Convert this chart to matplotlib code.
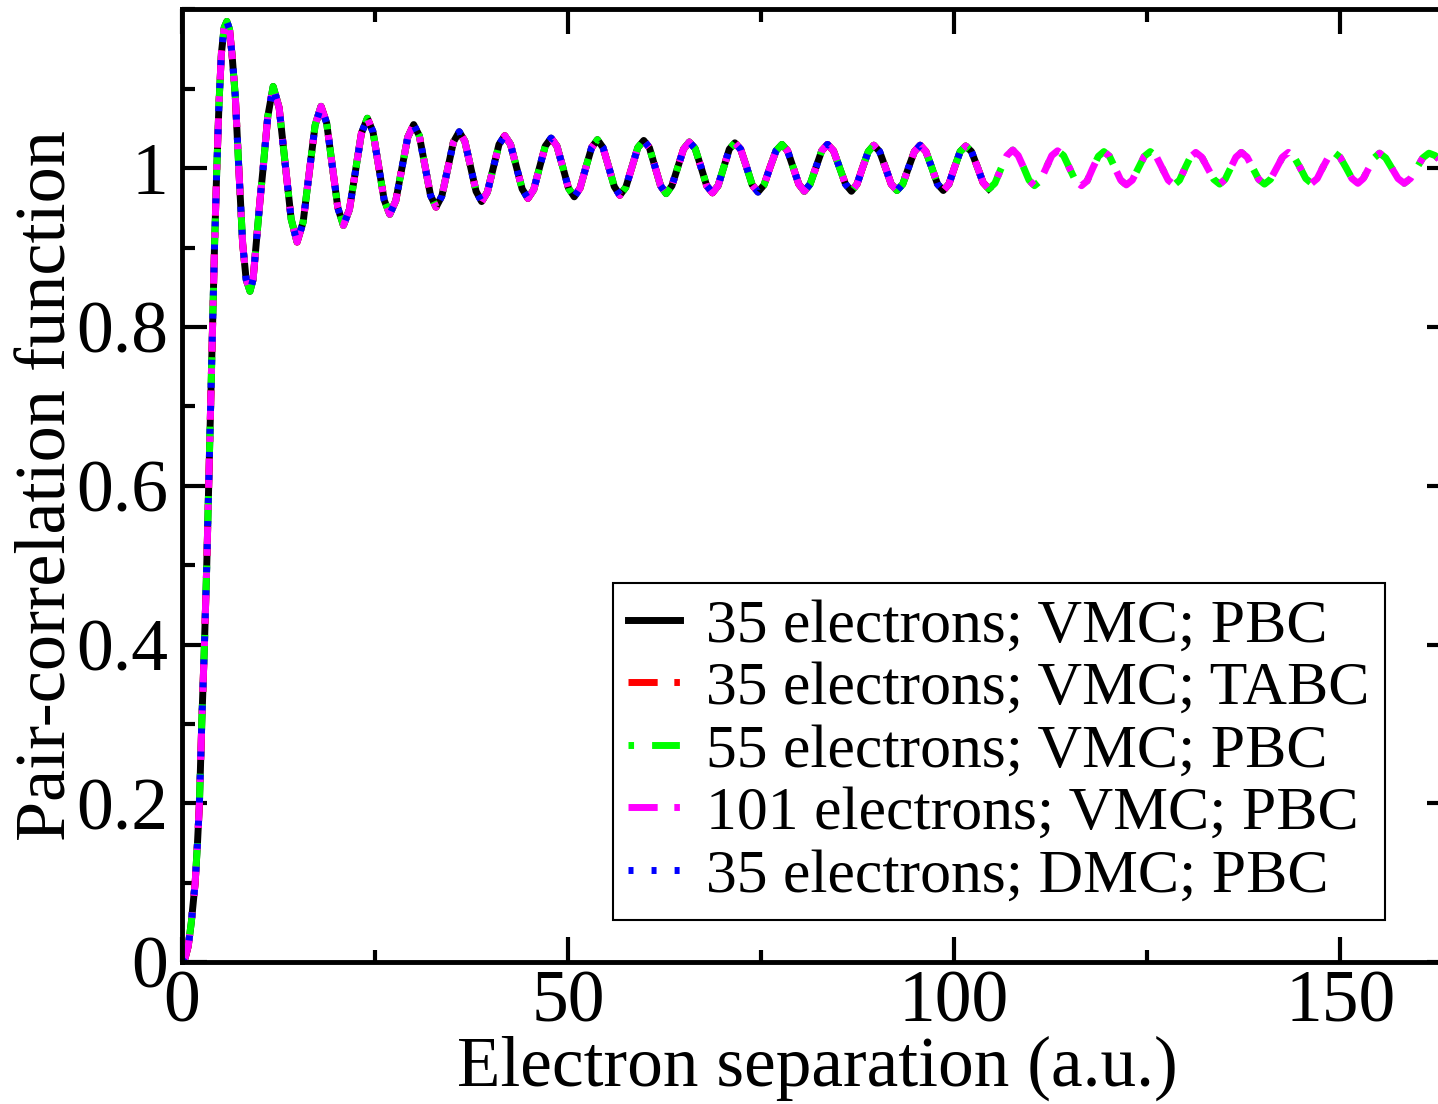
import matplotlib
matplotlib.use("Agg")
import matplotlib.pyplot as plt
from matplotlib.ticker import MultipleLocator

plt.rcParams['font.family'] = ['Liberation Serif', 'DejaVu Serif']
plt.rcParams['lines.scale_dashes'] = False

# electron separation (a.u.) and g(r) for the 35-electron cells (ends at L/2)
r_35 = [0.0, 0.4, 0.8, 1.2, 1.7, 2.0, 2.25, 2.55, 2.9, 3.2, 3.45, 3.7, 3.95,
        4.2, 4.5, 4.8, 5.1, 5.45, 5.8, 6.15, 6.5, 6.9, 7.35, 7.85, 8.3, 8.8,
        9.2, 9.6, 10.1, 10.5, 11.1, 11.8,
        12.58, 13.35, 14.13, 14.9, 15.68, 16.45, 17.23, 18.0,
        18.73, 19.45, 20.18, 20.9, 21.68, 22.45, 23.23, 24.0,
        24.73, 25.45, 26.18, 26.9, 27.68, 28.45, 29.23, 30.0,
        30.73, 31.45, 32.18, 32.9, 33.65, 34.4, 35.15, 35.9,
        36.63, 37.35, 38.08, 38.8, 39.55, 40.3, 41.05, 41.8,
        42.55, 43.3, 44.05, 44.8, 45.55, 46.3, 47.05, 47.8,
        48.55, 49.3, 50.05, 50.8, 51.55, 52.3, 53.05, 53.8,
        54.53, 55.25, 55.98, 56.7, 57.48, 58.25, 59.03, 59.8,
        60.53, 61.25, 61.98, 62.7, 63.45, 64.2, 64.95, 65.7,
        66.45, 67.2, 67.95, 68.7, 69.43, 70.15, 70.88, 71.6,
        72.35, 73.1, 73.85, 74.6, 75.38, 76.15, 76.93, 77.7,
        78.43, 79.15, 79.88, 80.6, 81.35, 82.1, 82.85, 83.6,
        84.38, 85.15, 85.93, 86.7, 87.43, 88.15, 88.88, 89.6,
        90.35, 91.1, 91.85, 92.6, 93.35, 94.1, 94.85, 95.6,
        96.35, 97.1, 97.85, 98.6, 99.33, 100.05, 100.78, 101.5,
        102.25, 103.0, 103.75, 104.5]
g_35 = [0.0, 0.005, 0.02, 0.05, 0.10, 0.15, 0.20, 0.30, 0.40, 0.50, 0.60, 0.70, 0.80,
        0.90, 1.00, 1.085, 1.145, 1.177, 1.185, 1.175, 1.14, 1.09, 1.00, 0.905, 0.86, 0.845,
        0.86, 0.905, 0.96, 1.00, 1.065, 1.103,
        1.076, 1.006, 0.936, 0.907, 0.932, 0.993, 1.054, 1.078,
        1.057, 1.004, 0.950, 0.928, 0.948, 0.996, 1.044, 1.063,
        1.046, 1.003, 0.960, 0.942, 0.959, 0.999, 1.039, 1.055,
        1.041, 1.004, 0.966, 0.951, 0.965, 0.999, 1.033, 1.046,
        1.034, 1.003, 0.971, 0.958, 0.970, 1.000, 1.030, 1.041,
        1.030, 1.002, 0.974, 0.962, 0.973, 1.001, 1.028, 1.038,
        1.028, 1.002, 0.975, 0.964, 0.975, 1.001, 1.026, 1.036,
        1.026, 1.002, 0.977, 0.966, 0.976, 1.001, 1.026, 1.035,
        1.026, 1.002, 0.978, 0.968, 0.978, 1.001, 1.024, 1.033,
        1.025, 1.002, 0.978, 0.969, 0.978, 1.001, 1.024, 1.032,
        1.024, 1.002, 0.979, 0.970, 0.979, 1.001, 1.022, 1.030,
        1.022, 1.001, 0.980, 0.971, 0.980, 1.001, 1.022, 1.030,
        1.022, 1.001, 0.980, 0.971, 0.980, 1.001, 1.021, 1.029,
        1.021, 1.001, 0.980, 0.972, 0.980, 1.001, 1.021, 1.029,
        1.021, 1.001, 0.980, 0.972, 0.980, 1.001, 1.021, 1.028,
        1.021, 1.002, 0.982, 0.974]

# the larger cells reach further out
r_tail = [105.28, 106.05, 106.83, 107.6, 108.3, 109.0, 109.7, 110.4,
          111.15, 111.9, 112.65, 113.4, 114.18, 114.95, 115.73, 116.5,
          117.23, 117.95, 118.68, 119.4, 120.13, 120.85, 121.58, 122.3,
          123.08, 123.85, 124.63, 125.4, 126.18, 126.95, 127.73, 128.5,
          129.2, 129.9, 130.6, 131.3, 132.08, 132.85, 133.63, 134.4,
          135.1, 135.8, 136.5, 137.2, 137.95, 138.7, 139.45, 140.2,
          140.98, 141.75, 142.53, 143.3, 144.05, 144.8, 145.55, 146.3,
          147.03, 147.75, 148.48, 149.2, 149.98, 150.75, 151.53, 152.3,
          153.0, 153.7, 154.4, 155.1, 155.9, 156.7, 157.5, 158.3,
          159.1, 159.9, 160.7, 161.5, 162.3, 163.2]
g_tail = [0.981, 0.999, 1.016, 1.023, 1.016, 1.001, 0.985, 0.978,
          0.984, 1.000, 1.016, 1.022, 1.016, 1.000, 0.984, 0.978,
          0.984, 1.000, 1.015, 1.021, 1.015, 1.000, 0.985, 0.979,
          0.985, 1.000, 1.015, 1.021, 1.015, 1.000, 0.985, 0.979,
          0.985, 1.000, 1.014, 1.020, 1.014, 1.000, 0.986, 0.980,
          0.986, 1.000, 1.014, 1.020, 1.014, 1.000, 0.986, 0.980,
          0.986, 1.000, 1.014, 1.020, 1.014, 1.001, 0.987, 0.981,
          0.987, 1.001, 1.014, 1.020, 1.014, 1.001, 0.987, 0.981,
          0.987, 1.000, 1.013, 1.019, 1.013, 1.000, 0.987, 0.981,
          0.987, 1.000, 1.013, 1.019, 1.016, 1.008]

r_long = r_35 + r_tail
g_long = g_35 + g_tail

labels = ['35 electrons; VMC; PBC', '35 electrons; VMC; TABC',
          '55 electrons; VMC; PBC', '101 electrons; VMC; PBC',
          '35 electrons; DMC; PBC']
colors = ['black', 'red', '#00ff00', 'magenta', 'blue']
styles = ['-', (0, (21, 12, 4, 12)), (0, (4, 13, 20, 13)),
          (0, (21, 12, 4, 12)), (0, (3.6, 13))]
curves = [(r_35, g_35), (r_35, g_35), (r_long, g_long), (r_long, g_long), (r_35, g_35)]

ytick_vals = [0, 0.2, 0.4, 0.6, 0.8, 1.0]
ytick_labels = ['0', '0.2', '0.4', '0.6', '0.8', '1']
xtick_vals = [0, 50, 100, 150]

fig = plt.figure(figsize=(14.38, 11.04), dpi=100)
ax = fig.add_axes([0.1266, 0.1286, 0.8832, 0.8628])

for (x, y), lab, c, ls in zip(curves, labels, colors, styles):
    ax.plot(x, y, color=c, linestyle=ls, linewidth=5, label=lab)

ax.set_xlim(0, 164.5)
ax.set_ylim(0, 1.2)
ax.set_xticks(xtick_vals)
ax.set_yticks(ytick_vals)
ax.set_yticklabels(ytick_labels)
ax.xaxis.set_minor_locator(MultipleLocator(25))
ax.yaxis.set_minor_locator(MultipleLocator(0.1))
ax.tick_params(which='both', direction='in', top=True, right=True, width=3, labelsize=53)
ax.tick_params(which='major', length=18)
ax.tick_params(which='minor', length=9)
ax.tick_params(axis='x', which='major', pad=6)
ax.tick_params(axis='y', which='major', pad=10)
for sp in ax.spines.values():
    sp.set_linewidth(3.5)

ax.set_xlabel('Electron separation (a.u.)', fontsize=51.3, labelpad=-2)
ax.set_ylabel('Pair-correlation function', fontsize=52, labelpad=-3)

leg = ax.legend(loc='upper left', bbox_to_anchor=(0.339, 0.398), borderaxespad=0,
                fontsize=44.5, handlelength=0.84, handletextpad=0.42,
                labelspacing=0.1, borderpad=0.25, fancybox=False, framealpha=1)
leg.get_frame().set_edgecolor('black')
leg.get_frame().set_linewidth(1.5)

plt.savefig('out.png', dpi=100)
